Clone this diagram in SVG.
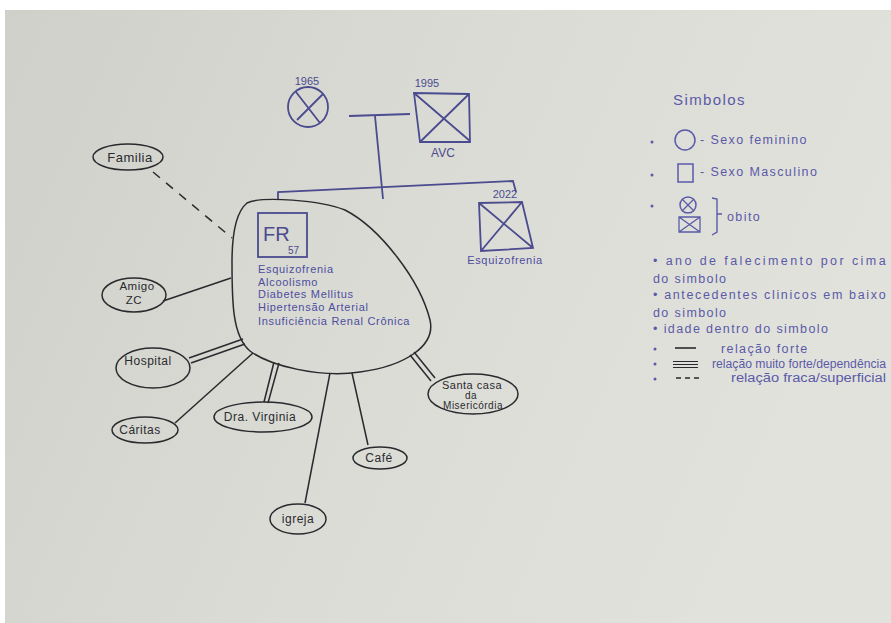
<svg xmlns="http://www.w3.org/2000/svg" width="891" height="623" viewBox="0 0 891 623">
<defs>
<linearGradient id="paper" x1="0" y1="0" x2="1" y2="0.3">
<stop offset="0" stop-color="#cfd0c9"/>
<stop offset="0.5" stop-color="#dadbd5"/>
<stop offset="1" stop-color="#e2e2dc"/>
</linearGradient>
<style>
.ink{fill:none;stroke:#2a2a2e;stroke-width:1.5}
.blue{fill:none;stroke:#4b4b8f;stroke-width:1.8}
.lbl{font-family:"Liberation Sans",Arial,sans-serif;font-size:12px;fill:#2a2a2e;text-anchor:middle;letter-spacing:0.5px}
.btxt{font-family:"Liberation Sans",Arial,sans-serif;font-size:11px;fill:#4d4da0;letter-spacing:0.7px}
.yr{font-family:"Liberation Sans",Arial,sans-serif;font-size:11px;fill:#4b4b8f;text-anchor:middle}
.leg{font-family:"Liberation Sans",Arial,sans-serif;font-size:12.5px;fill:#5a5aa8;letter-spacing:1.4px}
</style>
</defs>
<rect width="891" height="623" fill="#ffffff"/>
<rect x="5" y="10" width="886" height="613" fill="url(#paper)"/>

<g id="connectors">
<path class="blue" d="M349,116 L410,114"/>
<path class="blue" d="M375,116 L383,199"/>
<path class="blue" d="M278,200 L278,192 L513,181 L516,192"/>
<path class="ink" d="M153,172 L232,238" stroke-dasharray="9,8"/>
<path class="ink" d="M163,301 L231,278"/>
<path class="ink" d="M189,358 L243,339"/>
<path class="ink" d="M191,363 L245,344"/>
<path class="ink" d="M175,423 L253,353"/>
<path class="ink" d="M264,402 L274,362"/>
<path class="ink" d="M268,403 L279,363"/>
<path class="ink" d="M368,445 L352,373"/>
<path class="ink" d="M305,503 L330,373"/>
<path class="ink" d="M431,381 L410,355"/>
<path class="ink" d="M435,378 L414,352"/>
</g>

<g id="mae">
<circle class="blue" cx="308" cy="107" r="20"/>
<path class="blue" d="M296,92 L320,123 M323,94 L297,120"/>
<text class="yr" x="307" y="85">1965</text>
</g>

<g id="pai">
<path class="blue" d="M414,93 L469,94 L470,142 L420,142 Z M414,93 L470,141 M469,94 L420,142"/>
<text class="yr" x="427" y="87">1995</text>
<text class="yr" x="443" y="157" style="font-size:12px">AVC</text>
</g>

<g id="irmao">
<path class="blue" d="M479,203 L522,202 L533,248 L481,251 Z M479,203 L533,248 M522,202 L481,251"/>
<text class="yr" x="505" y="198">2022</text>
<text class="btxt" x="505" y="264" text-anchor="middle">Esquizofrenia</text>
</g>

<g id="fr">
<path class="ink" d="M247,203 C262,196 320,200 345,210 C380,228 420,280 430,320 C436,346 405,366 360,372 C320,378 270,366 250,351 C232,336 232,300 232,262 C232,236 236,212 247,203 Z"/>
<rect class="blue" x="258" y="213" width="49" height="44"/>
<text x="263" y="241" style="font-family:'Liberation Sans',Arial,sans-serif;font-size:20px;fill:#4b4b8f">FR</text>
<text x="288" y="254" style="font-family:'Liberation Sans',Arial,sans-serif;font-size:10px;fill:#4b4b8f">57</text>
<text class="btxt" x="258" y="273">Esquizofrenia</text>
<text class="btxt" x="258" y="286">Alcoolismo</text>
<text class="btxt" x="258" y="298">Diabetes Mellitus</text>
<text class="btxt" x="258" y="311">Hipertensão Arterial</text>
<text class="btxt" x="258" y="325">Insuficiência Renal Crônica</text>
</g>

<g id="familia">
<ellipse class="ink" cx="128" cy="157" rx="35" ry="13"/>
<text class="lbl" x="130" y="162" style="font-size:13px">Familia</text>
</g>

<g id="amigo">
<ellipse class="ink" cx="134" cy="295" rx="32" ry="17"/>
<text class="lbl" x="137" y="290" style="font-size:11.5px">Amigo</text>
<text class="lbl" x="134" y="304" style="font-size:11.5px">ZC</text>
</g>

<g id="hospital">
<ellipse class="ink" cx="153" cy="368" rx="37" ry="20"/>
<text class="lbl" x="148" y="365">Hospital</text>
</g>

<g id="caritas">
<ellipse class="ink" cx="145" cy="430" rx="33" ry="13"/>
<text class="lbl" x="140" y="434">Cáritas</text>
</g>

<g id="dra-virginia">
<ellipse class="ink" cx="263" cy="417" rx="49" ry="15"/>
<text class="lbl" x="260" y="421">Dra. Virginia</text>
</g>

<g id="cafe">
<ellipse class="ink" cx="380" cy="458" rx="27" ry="11"/>
<text class="lbl" x="379" y="462">Café</text>
</g>

<g id="igreja">
<ellipse class="ink" cx="298" cy="519" rx="28" ry="15"/>
<text class="lbl" x="298" y="523">igreja</text>
</g>

<g id="santa-casa">
<ellipse class="ink" cx="473" cy="394" rx="45" ry="20"/>
<text class="lbl" x="472" y="389" style="font-size:11px">Santa casa</text>
<text class="lbl" x="471" y="399" style="font-size:10px">da</text>
<text class="lbl" x="473" y="409" style="font-size:10px">Misericórdia</text>
</g>

<g id="legenda">
<text class="leg" x="673" y="105" style="font-size:15px">Simbolos</text>
<circle cx="652" cy="142" r="1.5" fill="#5a5aa8"/>
<circle cx="685" cy="140" r="10" fill="none" stroke="#5a5aa8" stroke-width="1.5"/>
<text class="leg" x="700" y="144">- Sexo feminino</text>
<circle cx="652" cy="175" r="1.5" fill="#5a5aa8"/>
<rect x="678" y="164" width="15" height="18" fill="none" stroke="#5a5aa8" stroke-width="1.5"/>
<text class="leg" x="700" y="176">- Sexo Masculino</text>
<circle cx="652" cy="206" r="1.5" fill="#5a5aa8"/>
<circle cx="688" cy="205" r="8" fill="none" stroke="#5a5aa8" stroke-width="1.5"/>
<path d="M682,199 L694,211 M694,199 L682,211" stroke="#5a5aa8" stroke-width="1.3" fill="none"/>
<path d="M679,217 L700,217 L700,232 L679,232 Z M679,217 L700,232 M700,217 L679,232" stroke="#5a5aa8" stroke-width="1.3" fill="none"/>
<path d="M712,198 L717,199 L717,232 L712,235 M717,214 L722,214" stroke="#5a5aa8" stroke-width="1.4" fill="none"/>
<text class="leg" x="727" y="221">obito</text>
<text class="leg" x="653" y="265" textLength="234">• ano de falecimento por cima</text>
<text class="leg" x="653" y="283">do simbolo</text>
<text class="leg" x="653" y="299" textLength="234">• antecedentes clinicos em baixo</text>
<text class="leg" x="653" y="317">do simbolo</text>
<text class="leg" x="653" y="333">• idade dentro do simbolo</text>
<circle cx="655" cy="349" r="1.5" fill="#5a5aa8"/>
<path d="M675,348 L696,348" stroke="#2a2a2e" stroke-width="1.6"/>
<text class="leg" x="721" y="353">relação forte</text>
<circle cx="655" cy="364" r="1.5" fill="#5a5aa8"/>
<path d="M673,361.5 L698,361.5 M673,364.5 L698,364.5 M673,367.5 L698,367.5" stroke="#2a2a2e" stroke-width="1.1"/>
<text class="leg" x="712" y="368" textLength="174" lengthAdjust="spacingAndGlyphs" style="letter-spacing:0">relação muito forte/dependência</text>
<circle cx="655" cy="379" r="1.5" fill="#5a5aa8"/>
<path d="M676,378 L700,378" stroke="#2a2a2e" stroke-width="1.4" stroke-dasharray="5,4"/>
<text class="leg" x="731" y="382" textLength="155" lengthAdjust="spacingAndGlyphs" style="letter-spacing:0">relação fraca/superficial</text>
</g>
</svg>
